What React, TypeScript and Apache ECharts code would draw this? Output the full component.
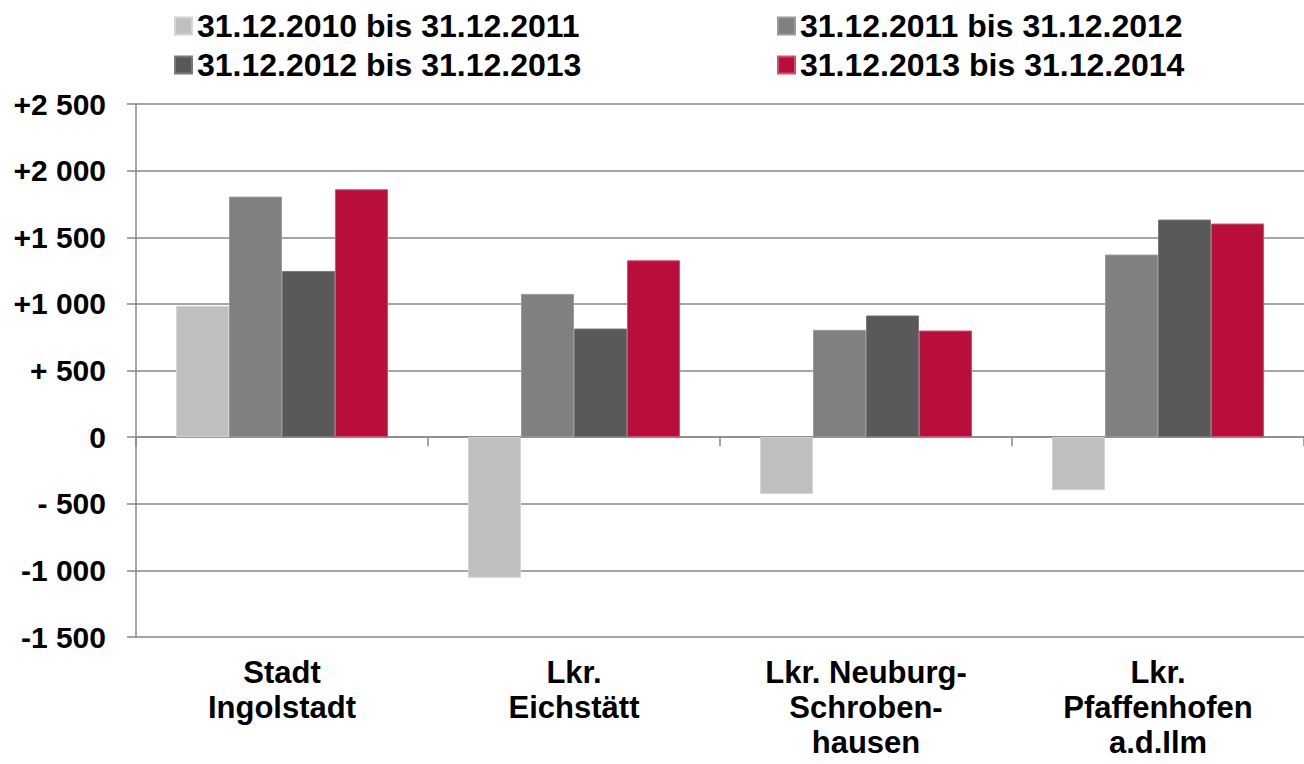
import React, { useEffect, useRef } from "react";
import * as echarts from "echarts";

const categories = [
  "Stadt\nIngolstadt",
  "Lkr.\nEichstätt",
  "Lkr. Neuburg-\nSchroben-\nhausen",
  "Lkr.\nPfaffenhofen\na.d.Ilm",
];
const seriesNames = [
  "31.12.2010 bis 31.12.2011",
  "31.12.2011 bis 31.12.2012",
  "31.12.2012 bis 31.12.2013",
  "31.12.2013 bis 31.12.2014",
];
const values2011 = [985, -1055, -427, -398];
const values2012 = [1805, 1075, 805, 1370];
const values2013 = [1247, 815, 913, 1633];
const values2014 = [1860, 1327, 800, 1603];
const yTickLabels: Record<string, string> = {
  "2500": "+2 500",
  "2000": "+2 000",
  "1500": "+1 500",
  "1000": "+1 000",
  "500": "+ 500",
  "0": "0",
  "-500": "- 500",
  "-1000": "-1 000",
  "-1500": "-1 500",
};

const colors = ["#bfbfbf", "#808080", "#595959", "#b90e3a"];
const borders = ["#d4d4d4", "#9a9a9a", "#7a7a7a", "#d0526f"];
const FONT = "'Liberation Sans', Arial, sans-serif";

export default function App() {
  const ref = useRef<HTMLDivElement>(null);
  useEffect(() => {
    if (!ref.current) return;
    const chart = echarts.init(ref.current, undefined, { renderer: "svg" });
    const allValues = [values2011, values2012, values2013, values2014];
    const legendPos = [
      { left: 174, top: 10 },
      { left: 777, top: 10 },
      { left: 174, top: 49 },
      { left: 777, top: 49 },
    ];
    const option: any = {
      animation: false,
      backgroundColor: "#ffffff",
      textStyle: { fontFamily: FONT },
      legend: seriesNames.map((n, i) => ({
        data: [n],
        left: legendPos[i].left,
        top: legendPos[i].top,
        padding: 0,
        itemWidth: 17,
        itemHeight: 17,
        icon: "rect",
        selectedMode: false,
        textStyle: {
          fontFamily: FONT,
          fontWeight: "bold",
          fontSize: 32,
          color: "#000",
        },
      })),
      grid: { left: 136, right: 0, top: 104, bottom: 127, containLabel: false },
      xAxis: [
        {
          type: "category",
          data: categories,
          position: "bottom",
          axisLine: { show: false, onZero: false },
          axisTick: { show: false },
          axisLabel: {
            interval: 0,
            margin: 18,
            fontFamily: FONT,
            fontWeight: "bold",
            fontSize: 31,
            lineHeight: 35,
            color: "#000",
          },
        },
        {
          type: "category",
          data: categories,
          position: "top",
          axisLine: { show: true, onZero: true, lineStyle: { color: "#898989", width: 1.5 } },
          axisTick: { show: true, inside: true, length: 9, lineStyle: { color: "#898989", width: 1.5 } },
          axisLabel: { show: false },
        },
      ],
      yAxis: {
        type: "value",
        min: -1500,
        max: 2500,
        interval: 500,
        axisLine: { show: true, lineStyle: { color: "#898989", width: 1.5 } },
        axisTick: { show: true, length: 9, lineStyle: { color: "#898989", width: 1.5 } },
        splitLine: { show: true, lineStyle: { color: "#898989", width: 1.5 } },
        axisLabel: {
          margin: 30,
          fontFamily: FONT,
          fontWeight: "bold",
          fontSize: 30,
          color: "#000",
          formatter: (v: number) => yTickLabels[String(v)] ?? String(v),
        },
      },
      series: allValues.map((vals, i) => ({
        name: seriesNames[i],
        type: "bar",
        xAxisIndex: 0,
        data: vals,
        barWidth: 53,
        barGap: "0%",
        itemStyle: { color: colors[i], borderColor: borders[i], borderWidth: 1 },
      })),
    };
    chart.setOption(option);
    return () => chart.dispose();
  }, []);
  return (
    <div
      ref={ref}
      style={{ position: "fixed", left: 0, top: 0, width: 1304, height: 764, background: "#fff" }}
    />
  );
}
